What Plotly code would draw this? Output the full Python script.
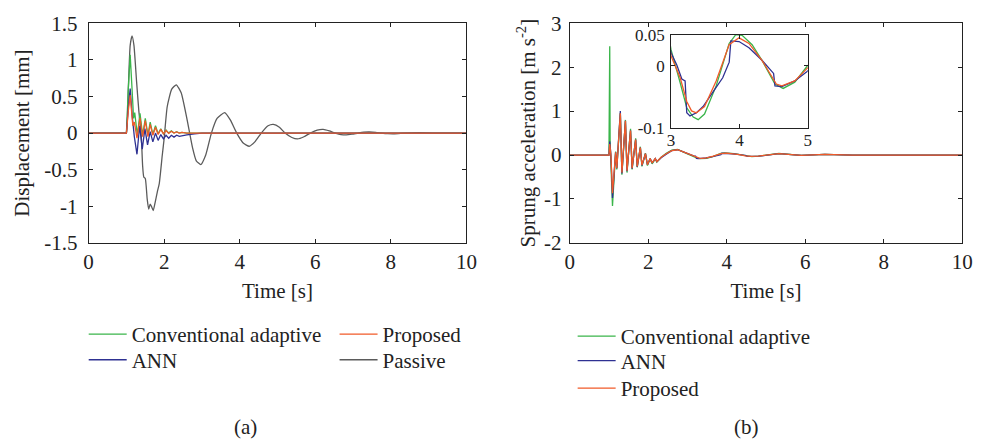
import plotly.graph_objects as go

# ---------------- data: (a) displacement [mm] ----------------
t_passive = [0, 0.9, 0.98, 1.0, 1.05, 1.1, 1.15, 1.2, 1.27, 1.33, 1.39, 1.43, 1.46, 1.5, 1.55, 1.59, 1.63, 1.67, 1.71,
             1.76, 1.82, 1.87, 1.95, 2.0, 2.08, 2.2, 2.32, 2.45, 2.6, 2.75, 2.85, 2.97, 3.1, 3.25, 3.4, 3.6,
             3.75, 3.92, 4.1, 4.25, 4.4, 4.57, 4.75, 4.89, 5.05, 5.2, 5.38, 5.53, 5.7, 5.87, 6.05, 6.21, 6.37,
             6.53, 6.68, 6.82, 6.97, 7.13, 7.28, 7.43, 7.6, 7.75, 7.92, 8.08, 8.4, 8.75, 9.1, 9.5, 10]
d_passive = [0, 0, 0, 0, 0.6, 1.2, 1.33, 1.2, 0.7, 0.3, 0.0, -0.45, -0.6, -0.62, -0.9, -1.04, -0.97, -1.01, -1.06,
             -0.95, -0.8, -0.69, -0.3, -0.07, 0.36, 0.6, 0.66, 0.55, 0.2, -0.2, -0.38, -0.43, -0.3, 0.0, 0.2, 0.28,
             0.18, 0.0, -0.14, -0.18, -0.12, 0.0, 0.1, 0.12, 0.08, 0.0, -0.06, -0.08, -0.05, 0.0, 0.04, 0.05, 0.03,
             0.0, -0.02, -0.025, -0.015, 0.0, 0.012, 0.015, 0.01, 0.0, -0.008, -0.01, 0.0, 0.005, 0.0, 0.0, 0]

t_conv_d = [0, 1.0, 1.05, 1.10, 1.15, 1.19, 1.22, 1.29, 1.36, 1.43, 1.50, 1.57, 1.63, 1.70, 1.77, 1.84, 1.91,
            1.98, 2.05, 2.12, 2.19, 2.26, 2.33, 2.40, 2.47, 2.6, 10]
d_conv = [0, 0, 0.6, 1.07, 0.6, 0.2, 0.28, -0.03, 0.27, -0.03, 0.2, -0.03, 0.15, -0.02, 0.1, -0.01, 0.06,
          -0.01, 0.04, 0.0, 0.03, 0.0, 0.02, 0.0, 0.01, 0.0, 0]

t_ann_d = [0, 1.0, 1.05, 1.10, 1.15, 1.21, 1.28, 1.35, 1.42, 1.49, 1.56, 1.63, 1.70, 1.77, 1.84, 1.91, 1.98,
           2.05, 2.12, 2.19, 2.26, 2.33, 2.40, 2.5, 2.6, 2.8, 3.0, 10]
d_ann = [0, 0, 0.35, 0.61, 0.25, -0.05, -0.29, 0.1, -0.22, 0.06, -0.16, 0.02, -0.12, 0.0, -0.1, -0.02, -0.08,
         -0.03, -0.07, -0.03, -0.055, -0.03, -0.045, -0.03, -0.025, -0.01, 0.0, 0]

t_prop_d = [0, 1.0, 1.05, 1.10, 1.17, 1.21, 1.28, 1.36, 1.43, 1.50, 1.57, 1.63, 1.70, 1.77, 1.84, 1.91, 1.98,
            2.05, 2.12, 2.19, 2.26, 2.33, 2.40, 2.47, 2.6, 10]
d_prop = [0, 0, 0.3, 0.52, 0.1, 0.15, -0.07, 0.21, -0.05, 0.17, -0.05, 0.12, -0.03, 0.08, -0.02, 0.05, -0.01,
          0.035, -0.005, 0.025, 0.0, 0.015, 0.0, 0.01, 0.0, 0]

# ---------------- data: (b) sprung acceleration [m s^-2] ----------------
t_conv_a = [0, 1.0, 1.02, 1.03, 1.09, 1.17, 1.2, 1.29, 1.33, 1.42, 1.46, 1.55, 1.59, 1.68, 1.72, 1.80, 1.84,
            1.93, 1.98, 2.05, 2.1, 2.18, 2.22, 2.33, 2.46, 2.6, 2.75, 2.95,
            3.0, 3.134, 3.23, 3.325, 3.397, 3.49, 3.66, 3.85, 3.947, 4.04, 4.186, 4.33, 4.52, 4.64, 4.81, 4.99,
            5.33, 5.9, 6.5, 7.2, 8.0, 10]
a_conv = [0, 0, 2.48, 0.3, -1.16, 0.08, -0.33, 0.95, -0.45, 0.8, -0.4, 0.6, -0.33, 0.38, -0.28, 0.19, -0.26,
          0.04, -0.24, -0.09, -0.2, -0.09, -0.16, -0.05, 0.04, 0.11, 0.13, 0.06,
          0.026, -0.027, -0.067, -0.082, -0.086, -0.077, -0.032, 0.036, 0.05, 0.049, 0.034, 0.009, -0.029,
          -0.036, -0.026, -0.0005, 0.035, -0.01, 0.015, 0.0, 0.0, 0]

t_ann_a = [0, 1.0, 1.02, 1.05, 1.09, 1.17, 1.2, 1.29, 1.33, 1.42, 1.46, 1.55, 1.59, 1.68, 1.72, 1.80, 1.84,
           1.93, 1.98, 2.05, 2.1, 2.18, 2.22, 2.33, 2.46, 2.6, 2.75, 2.95,
           3.0, 3.086, 3.158, 3.206, 3.23, 3.277, 3.373, 3.469, 3.612, 3.756, 3.851, 3.875, 3.995, 4.14, 4.33,
           4.50, 4.52, 4.62, 4.81, 4.99, 5.33, 5.9, 6.5, 7.2, 8.0, 10]
a_ann = [0, 0, 0.31, 0.0, -0.98, 0.06, -0.3, 1.0, -0.42, 0.78, -0.37, 0.56, -0.31, 0.35, -0.27, 0.17, -0.24,
         0.03, -0.22, -0.08, -0.18, -0.08, -0.15, -0.06, 0.02, 0.1, 0.12, 0.05,
         0.021, 0.001, -0.021, -0.024, -0.075, -0.080, -0.075, -0.065, -0.042, -0.019, 0.006, 0.040, 0.039,
         0.029, 0.009, -0.012, -0.032, -0.033, -0.024, -0.009, 0.03, -0.01, 0.015, 0.0, 0.0, 0]

t_prop_a = [0, 1.0, 1.02, 1.05, 1.09, 1.17, 1.2, 1.29, 1.33, 1.42, 1.46, 1.55, 1.59, 1.68, 1.72, 1.80, 1.84,
            1.93, 1.98, 2.05, 2.1, 2.18, 2.22, 2.33, 2.46, 2.6, 2.75, 2.95,
            3.0, 3.134, 3.23, 3.30, 3.37, 3.49, 3.66, 3.85, 3.995, 4.14, 4.33, 4.47, 4.54, 4.62, 4.81, 4.99,
            5.33, 5.9, 6.5, 7.2, 8.0, 10]
a_prop = [0, 0, 0.25, 0.0, -0.87, 0.06, -0.3, 0.95, -0.4, 0.78, -0.36, 0.56, -0.3, 0.35, -0.26, 0.17, -0.23,
          0.03, -0.22, -0.08, -0.18, -0.08, -0.15, -0.05, 0.03, 0.1, 0.12, 0.05,
          0.016, -0.019, -0.057, -0.072, -0.075, -0.065, -0.024, 0.034, 0.045, 0.036, 0.009, -0.017, -0.029,
          -0.032, -0.024, -0.004, 0.03, -0.01, 0.015, 0.0, 0.0, 0]

# ---------------- axis ticks ----------------
x_ticks = [0, 2, 4, 6, 8, 10]
x_ticktext = ["0", "2", "4", "6", "8", "10"]
yd_ticks = [-1.5, -1, -0.5, 0, 0.5, 1, 1.5]
yd_ticktext = ["-1.5", "-1", "-0.5", "0", "0.5", "1", "1.5"]
ya_ticks = [-2, -1, 0, 1, 2, 3]
ya_ticktext = ["-2", "-1", "0", "1", "2", "3"]
xin_ticks = [3, 4, 5]
xin_ticktext = ["3", "4", "5"]
yin_ticks = [-0.1, 0, 0.05]
yin_ticktext = ["-0.1", "0", "0.05"]

names = ["Conventional adaptive", "ANN", "Proposed", "Passive"]
GREEN, BLUE, RED, GRAY = "#3ab54a", "#2e3192", "#f15a29", "#5b5b5b"
FONT = "Liberation Serif"
FS = 21
LW = 1.3
TXT = "#222"

fig = go.Figure()

# (a)
fig.add_trace(go.Scatter(x=t_passive, y=d_passive, name=names[3],
                         line=dict(color=GRAY, width=LW, shape="spline", smoothing=0.5),
                         mode="lines", legend="legend4", xaxis="x", yaxis="y"))
fig.add_trace(go.Scatter(x=t_conv_d, y=d_conv, name=names[0], line=dict(color=GREEN, width=LW), mode="lines",
                         legend="legend", xaxis="x", yaxis="y"))
fig.add_trace(go.Scatter(x=t_ann_d, y=d_ann, name=names[1], line=dict(color=BLUE, width=LW), mode="lines",
                         legend="legend2", xaxis="x", yaxis="y"))
fig.add_trace(go.Scatter(x=t_prop_d, y=d_prop, name=names[2], line=dict(color=RED, width=LW), mode="lines",
                         legend="legend3", xaxis="x", yaxis="y"))

# (b)
fig.add_trace(go.Scatter(x=t_conv_a, y=a_conv, name=names[0], line=dict(color=GREEN, width=LW), mode="lines",
                         legend="legend5", xaxis="x2", yaxis="y2"))
fig.add_trace(go.Scatter(x=t_ann_a, y=a_ann, name=names[1], line=dict(color=BLUE, width=LW), mode="lines",
                         legend="legend6", xaxis="x2", yaxis="y2"))
fig.add_trace(go.Scatter(x=t_prop_a, y=a_prop, name=names[2], line=dict(color=RED, width=LW), mode="lines",
                         legend="legend7", xaxis="x2", yaxis="y2"))

# inset
for tx, ay, c in [(t_conv_a, a_conv, GREEN), (t_ann_a, a_ann, BLUE), (t_prop_a, a_prop, RED)]:
    fig.add_trace(go.Scatter(x=tx, y=ay, line=dict(color=c, width=LW), mode="lines", showlegend=False,
                             xaxis="x3", yaxis="y3"))

W, H = 987, 444
def px_x(p):
    return p / W
def px_y(p):
    return 1 - p / H

def axis_common(size, standoff):
    return dict(showline=True, linecolor="#222", linewidth=1, mirror="ticks", ticks="inside", ticklen=4,
                tickcolor="#222", showgrid=False, zeroline=False, ticklabelstandoff=standoff,
                tickfont=dict(family=FONT, size=size, color=TXT))

def legend_at(xp, yp):
    return dict(x=px_x(xp), y=px_y(yp), xanchor="left", yanchor="middle", bgcolor="rgba(0,0,0,0)",
                borderwidth=0, itemwidth=38, font=dict(family=FONT, size=FS, color=TXT))

fig.update_layout(
    width=W, height=H, margin=dict(l=0, r=0, t=0, b=0),
    paper_bgcolor="white", plot_bgcolor="white",
    font=dict(family=FONT, size=FS, color=TXT),
    xaxis=dict(domain=[px_x(85), px_x(469)], range=[0, 10], tickvals=x_ticks, ticktext=x_ticktext,
               anchor="y", title=dict(text="Time [s]", standoff=10, font=dict(size=FS)), **axis_common(FS, 0)),
    yaxis=dict(domain=[px_y(244), px_y(12)], range=[-1.5, 1.5], tickvals=yd_ticks, ticktext=yd_ticktext,
               anchor="x", title=dict(text="Displacement [mm]", standoff=8, font=dict(size=FS)),
               **axis_common(FS, 6)),
    xaxis2=dict(domain=[px_x(574), px_x(973)], range=[0, 10], tickvals=x_ticks, ticktext=x_ticktext,
                anchor="y2", title=dict(text="Time [s]", standoff=10, font=dict(size=FS)), **axis_common(FS, 0)),
    yaxis2=dict(domain=[px_y(244), px_y(12)], range=[-2, 3], tickvals=ya_ticks, ticktext=ya_ticktext,
                anchor="x2", title=dict(text="Sprung acceleration [m s<sup>-2</sup>]", standoff=2, font=dict(size=FS)),
                **axis_common(FS, 3)),
    xaxis3=dict(domain=[px_x(677), px_x(816)], range=[3, 5], tickvals=xin_ticks, ticktext=xin_ticktext,
                anchor="y3", **axis_common(17, -4)),
    yaxis3=dict(domain=[px_y(123), px_y(24)], range=[-0.1, 0.05], tickvals=yin_ticks, ticktext=yin_ticktext,
                anchor="x3", **axis_common(17, 2)),
    legend=legend_at(80, 341),
    legend2=legend_at(80, 368),
    legend3=legend_at(335, 341),
    legend4=legend_at(335, 368),
    legend5=legend_at(577, 343),
    legend6=legend_at(577, 369),
    legend7=legend_at(577, 398),
    annotations=[
        dict(text="(a)", x=px_x(244), y=px_y(439), xref="paper", yref="paper", showarrow=False,
             xanchor="center", yanchor="middle", font=dict(family=FONT, size=FS, color=TXT)),
        dict(text="(b)", x=px_x(754), y=px_y(439), xref="paper", yref="paper", showarrow=False,
             xanchor="center", yanchor="middle", font=dict(family=FONT, size=FS, color=TXT)),
    ],
)

fig.write_html("out.html")
